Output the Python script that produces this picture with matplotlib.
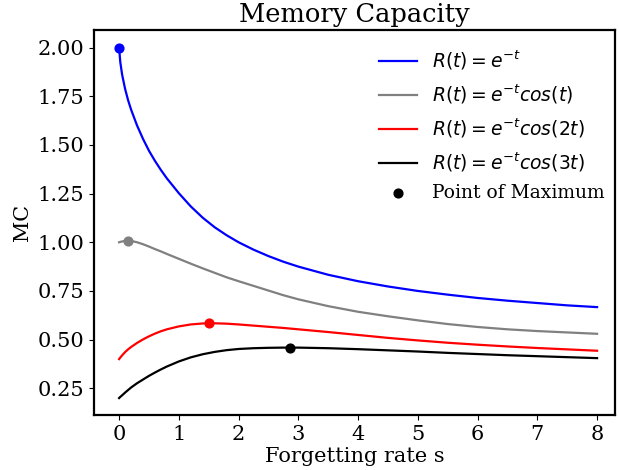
import matplotlib
matplotlib.use("Agg")
import matplotlib.pyplot as plt

# forgetting rate grid and MC values
s = [0, 0.02, 0.05, 0.1, 0.15, 0.2, 0.3, 0.4, 0.5, 0.6, 0.7, 0.8, 1.0, 1.2, 1.4,
     1.6, 1.8, 2.0, 2.25, 2.5, 2.75, 3.0, 3.5, 4.0, 4.5, 5.0, 5.5, 6.0, 6.5,
     7.0, 7.5, 8.0]

mc_exp = [2.000, 1.925, 1.862, 1.788, 1.730, 1.682, 1.600, 1.531, 1.470, 1.418,
          1.371, 1.328, 1.252, 1.184, 1.126, 1.077, 1.036, 1.000, 0.962, 0.929,
          0.900, 0.875, 0.833, 0.800, 0.773, 0.750, 0.731, 0.714, 0.700, 0.688,
          0.676, 0.667]
mc_cos1 = [1.000, 1.002, 1.004, 1.007, 1.008, 1.007, 1.000, 0.990, 0.978, 0.965,
           0.953, 0.940, 0.915, 0.890, 0.866, 0.843, 0.820, 0.800, 0.776, 0.752,
           0.728, 0.707, 0.672, 0.643, 0.620, 0.599, 0.580, 0.565, 0.553, 0.544,
           0.537, 0.530]
mc_cos2 = [0.400, 0.408, 0.419, 0.436, 0.450, 0.462, 0.483, 0.501, 0.517, 0.531,
           0.543, 0.553, 0.568, 0.578, 0.583, 0.584, 0.582, 0.578, 0.572, 0.566,
           0.560, 0.553, 0.539, 0.524, 0.509, 0.496, 0.484, 0.474, 0.465, 0.457,
           0.450, 0.443]
mc_cos3 = [0.200, 0.206, 0.214, 0.228, 0.241, 0.254, 0.276, 0.295, 0.314, 0.331,
           0.347, 0.362, 0.388, 0.409, 0.425, 0.437, 0.446, 0.452, 0.456, 0.458,
           0.459, 0.459, 0.456, 0.451, 0.445, 0.439, 0.432, 0.426, 0.420, 0.415,
           0.410, 0.405]

# maxima (s, MC)
max_s = [0.0, 0.15, 1.51, 2.86]
max_mc = [2.00, 1.008, 0.584, 0.459]

labels = [r'$R(t)=e^{-t}$', r'$R(t)=e^{-t}cos(t)$',
          r'$R(t)=e^{-t}cos(2t)$', r'$R(t)=e^{-t}cos(3t)$']
colors = ['blue', 'gray', 'red', 'black']

plt.rcParams['font.family'] = 'DejaVu Serif'
plt.rcParams['mathtext.fontset'] = 'dejavusans'

fig = plt.figure(figsize=(6.19, 4.70), dpi=100)
ax = fig.add_axes([94 / 619, 55 / 470, 521 / 619, 385 / 470])

for ys, c, lab in zip([mc_exp, mc_cos1, mc_cos2, mc_cos3], colors, labels):
    ax.plot(s, ys, color=c, lw=1.6, label=lab)
for i in range(4):
    ax.scatter(max_s[i], max_mc[i], color=colors[i], s=40, zorder=3,
               label='Point of Maximum' if i == 3 else None)

ax.set_xlim(-0.42, 8.3)
ax.set_ylim(0.113, 2.09)
ax.set_yticks([0.25, 0.5, 0.75, 1.0, 1.25, 1.5, 1.75, 2.0])
ax.set_xticks(range(9))
ax.tick_params(labelsize=15)
for sp in ax.spines.values():
    sp.set_linewidth(1.6)

ax.set_title("Memory Capacity", fontsize=18.5)
ax.set_xlabel("Forgetting rate s", fontsize=15, labelpad=2)
ax.set_ylabel("MC", fontsize=15)
ax.legend(frameon=False, fontsize=13.5, loc='upper right', labelspacing=0.55,
          bbox_to_anchor=(1.012, 0.995))

fig.savefig("out.png", dpi=100)
